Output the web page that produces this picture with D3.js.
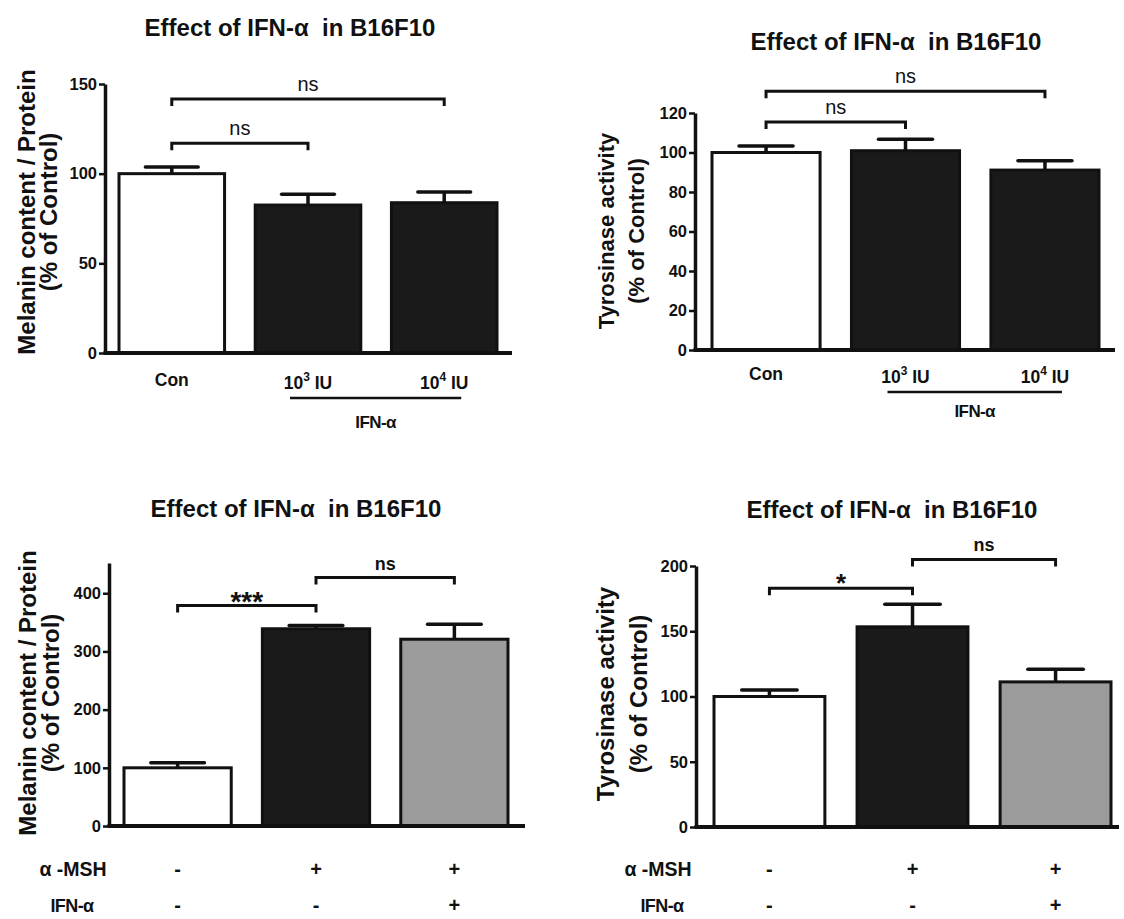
<!DOCTYPE html>
<html>
<head>
<meta charset="utf-8">
<script src="https://cdn.jsdelivr.net/npm/d3@7.9.0/dist/d3.min.js"></script>
<style>
  body { margin: 0; background: #fff; }
  svg { display: block; font-family: "Liberation Sans", Arial, sans-serif; }
  text { white-space: pre; fill: #111; }
</style>
</head>
<body>
<svg id="chart" width="1124" height="919"></svg>
<script>
// Data (mean and upper SEM, % of control)
const doseGroups = ["Con", "10^3 IU", "10^4 IU"];
const melaninDoseMean = [100, 82.5, 83.8];
const melaninDoseSem = [3.7, 6.0, 6.0];
const tyrosinaseDoseMean = [100, 100.9, 91.1];
const tyrosinaseDoseSem = [3.3, 5.8, 4.7];

const mshRow = ["-", "+", "+"];
const ifnRow = ["-", "-", "+"];
const melaninMshMean = [100, 339, 321];
const melaninMshSem = [8.6, 5.7, 25.7];
const tyrosinaseMshMean = [100, 153.4, 111.2];
const tyrosinaseMshSem = [5.0, 17.2, 9.6];

const melaninDoseTicks = [0, 50, 100, 150];
const tyrosinaseDoseTicks = [0, 20, 40, 60, 80, 100, 120];
const melaninMshTicks = [0, 100, 200, 300, 400];
const tyrosinaseMshTicks = [0, 50, 100, 150, 200];

// significance brackets: [from group, to group, label]
const melaninDoseSig = [[0, 1, "ns"], [0, 2, "ns"]];
const tyrosinaseDoseSig = [[0, 1, "ns"], [0, 2, "ns"]];
const melaninMshSig = [[0, 1, "***"], [1, 2, "ns"]];
const tyrosinaseMshSig = [[0, 1, "*"], [1, 2, "ns"]];

const title = "Effect of IFN-\u03b1  in B16F10";
const melaninLabel = ["Melanin content / Protein", "(% of Control)"];
const tyrosinaseLabel = ["Tyrosinase activity", "(% of Control)"];
const rowNames = ["\u03b1 -MSH", "IFN-\u03b1"];

const BLACK = "#1a1a1a";
const GREY = "#9b9b9b";
const svg = d3.select("#chart");

const panels = [
  {
    mean: melaninDoseMean, sem: melaninDoseSem, ticks: melaninDoseTicks, sig: melaninDoseSig,
    ylabel: melaninLabel, groups: doseGroups,
    L: { axisX: 105, axisEnd: 512, y0: 353, yTop: 84, yMax: 150, barL: 119, barR: 497,
         titleX: 290, titleY: 36, labX: [35, 57], labY: 212, labSize: 24,
         sigAt: [117, 141.7], nsSize: 20, nsWeight: "normal",
         fills: ["#fff", BLACK, BLACK], xlabY: 389, lineY: 398, groupY: 428 }
  },
  {
    mean: tyrosinaseDoseMean, sem: tyrosinaseDoseSem, ticks: tyrosinaseDoseTicks, sig: tyrosinaseDoseSig,
    ylabel: tyrosinaseLabel, groups: doseGroups,
    L: { axisX: 695, axisEnd: 1115, y0: 350, yTop: 113, yMax: 120, barL: 712, barR: 1099,
         titleX: 896, titleY: 50, labX: [614, 644], labY: 231, labSize: 22,
         sigAt: [115.4, 131], nsSize: 20, nsWeight: "normal",
         fills: ["#fff", BLACK, BLACK], xlabY: 383, lineY: 392, groupY: 417 }
  },
  {
    mean: melaninMshMean, sem: melaninMshSem, ticks: melaninMshTicks, sig: melaninMshSig,
    ylabel: melaninLabel, rows: [mshRow, ifnRow],
    L: { axisX: 109, axisEnd: 525, y0: 826, yTop: 563, yMax: 452, barL: 124, barR: 508,
         titleX: 296, titleY: 517, labX: [36, 59], labY: 693, labSize: 24,
         sigAt: [379, 427], nsSize: 18, nsWeight: "bold", starSize: 28, starDy: 6,
         fills: ["#fff", BLACK, GREY], rowX: [73, 72], rowY: [876, 912] }
  },
  {
    mean: tyrosinaseMshMean, sem: tyrosinaseMshSem, ticks: tyrosinaseMshTicks, sig: tyrosinaseMshSig,
    ylabel: tyrosinaseLabel, rows: [mshRow, ifnRow],
    L: { axisX: 696, axisEnd: 1119, y0: 827, yTop: 566, yMax: 200, barL: 714, barR: 1111,
         titleX: 892, titleY: 518, labX: [614, 647], labY: 694, labSize: 24,
         sigAt: [183, 205], nsSize: 18, nsWeight: "bold", starSize: 26, starDy: 4,
         fills: ["#fff", BLACK, GREY], rowX: [658, 662], rowY: [876, 912] }
  }
];

// writes "10^3 IU" as 10 with a raised 3
function groupText(sel, label) {
  const m = label.match(/^(\d+)\^(\d+)(.*)$/);
  if (!m) { sel.text(label); return; }
  sel.append("tspan").text(m[1]);
  sel.append("tspan").attr("dy", -8).attr("font-size", 12).text(m[2]);
  sel.append("tspan").attr("dy", 8).text(m[3]);
}

function drawPanel(p) {
  const L = p.L;
  const g = svg.append("g");
  const idx = d3.range(p.mean.length);
  const x = d3.scaleBand().domain(idx).range([L.barL, L.barR]).paddingInner(0.225).paddingOuter(0);
  const y = d3.scaleLinear().domain([0, L.yMax]).range([L.y0, L.yTop]);
  const cx = i => x(i) + x.bandwidth() / 2;

  // bars
  g.selectAll("rect.bar").data(p.mean).join("rect")
    .attr("class", "bar")
    .attr("x", (d, i) => x(i))
    .attr("y", d => y(d))
    .attr("width", x.bandwidth())
    .attr("height", d => y(0) - y(d))
    .attr("fill", (d, i) => L.fills[i])
    .attr("stroke", "#111")
    .attr("stroke-width", 3);

  // upper error bars
  const capW = x.bandwidth() * 0.5;
  idx.forEach(i => {
    const top = y(p.mean[i] + p.sem[i]);
    g.append("line").attr("x1", cx(i)).attr("x2", cx(i))
      .attr("y1", y(p.mean[i])).attr("y2", top)
      .attr("stroke", "#111").attr("stroke-width", 3.5);
    g.append("line").attr("x1", cx(i) - capW / 2).attr("x2", cx(i) + capW / 2)
      .attr("y1", top).attr("y2", top)
      .attr("stroke", "#111").attr("stroke-width", 3.5).attr("stroke-linecap", "round");
  });

  // y axis
  const ax = g.append("g")
    .attr("transform", `translate(${L.axisX},0)`)
    .call(d3.axisLeft(y).tickValues(p.ticks).tickSize(6).tickSizeOuter(0).tickPadding(2));
  ax.attr("font-family", null).attr("font-size", null);
  ax.select(".domain").attr("stroke", "#111").attr("stroke-width", 3.5);
  ax.selectAll(".tick line").attr("stroke", "#111").attr("stroke-width", 2.5);
  ax.selectAll(".tick text").attr("font-size", 16.5).attr("font-weight", "bold").attr("fill", "#111");

  // x axis line
  g.append("line").attr("x1", L.axisX - 1.5).attr("x2", L.axisEnd)
    .attr("y1", y(0)).attr("y2", y(0))
    .attr("stroke", "#111").attr("stroke-width", 4);

  // title
  g.append("text").attr("x", L.titleX).attr("y", L.titleY)
    .attr("text-anchor", "middle").attr("font-size", 24).attr("font-weight", "bold")
    .text(title);

  // y label, two lines
  p.ylabel.forEach((t, k) => {
    g.append("text")
      .attr("transform", `translate(${L.labX[k]},${L.labY}) rotate(-90)`)
      .attr("text-anchor", "middle").attr("font-size", L.labSize).attr("font-weight", "bold")
      .text(t);
  });

  // significance brackets
  p.sig.forEach(([a, b, label], k) => {
    const by = y(L.sigAt[k]);
    g.append("path")
      .attr("d", `M${cx(a)},${by + 7}V${by}H${cx(b)}V${by + 7}`)
      .attr("fill", "none").attr("stroke", "#111").attr("stroke-width", 3);
    const star = label.startsWith("*");
    g.append("text")
      .attr("x", (cx(a) + cx(b)) / 2)
      .attr("y", star ? by + L.starDy : by - 8)
      .attr("text-anchor", "middle")
      .attr("font-size", star ? L.starSize : L.nsSize)
      .attr("font-weight", star ? "bold" : L.nsWeight)
      .text(label);
  });

  if (p.groups) {
    // category labels under the axis
    idx.forEach(i => {
      const t = g.append("text").attr("x", cx(i)).attr("y", L.xlabY - (i === 0 ? 3 : 0))
        .attr("text-anchor", "middle").attr("font-size", 17.5).attr("font-weight", "bold");
      groupText(t, p.groups[i]);
    });
    const x1 = cx(1) - 18, x2 = cx(2) + 17;
    g.append("line").attr("x1", x1).attr("x2", x2).attr("y1", L.lineY).attr("y2", L.lineY)
      .attr("stroke", "#111").attr("stroke-width", 2.5);
    g.append("text").attr("x", (x1 + x2) / 2).attr("y", L.groupY)
      .attr("text-anchor", "middle").attr("font-size", 17).attr("font-weight", "bold")
      .attr("letter-spacing", -0.6).text("IFN-\u03b1");
  }

  if (p.rows) {
    // treatment table under the bars
    p.rows.forEach((row, r) => {
      g.append("text").attr("x", L.rowX[r]).attr("y", L.rowY[r])
        .attr("text-anchor", "middle").attr("font-size", r === 0 ? 19.5 : 18).attr("font-weight", "bold")
        .attr("letter-spacing", r === 0 ? 0 : -0.6).text(rowNames[r]);
      row.forEach((s, i) => {
        g.append("text").attr("x", cx(i)).attr("y", L.rowY[r])
          .attr("text-anchor", "middle").attr("font-size", 20).attr("font-weight", "bold")
          .text(s);
      });
    });
  }
}

panels.forEach(drawPanel);
</script>
</body>
</html>
